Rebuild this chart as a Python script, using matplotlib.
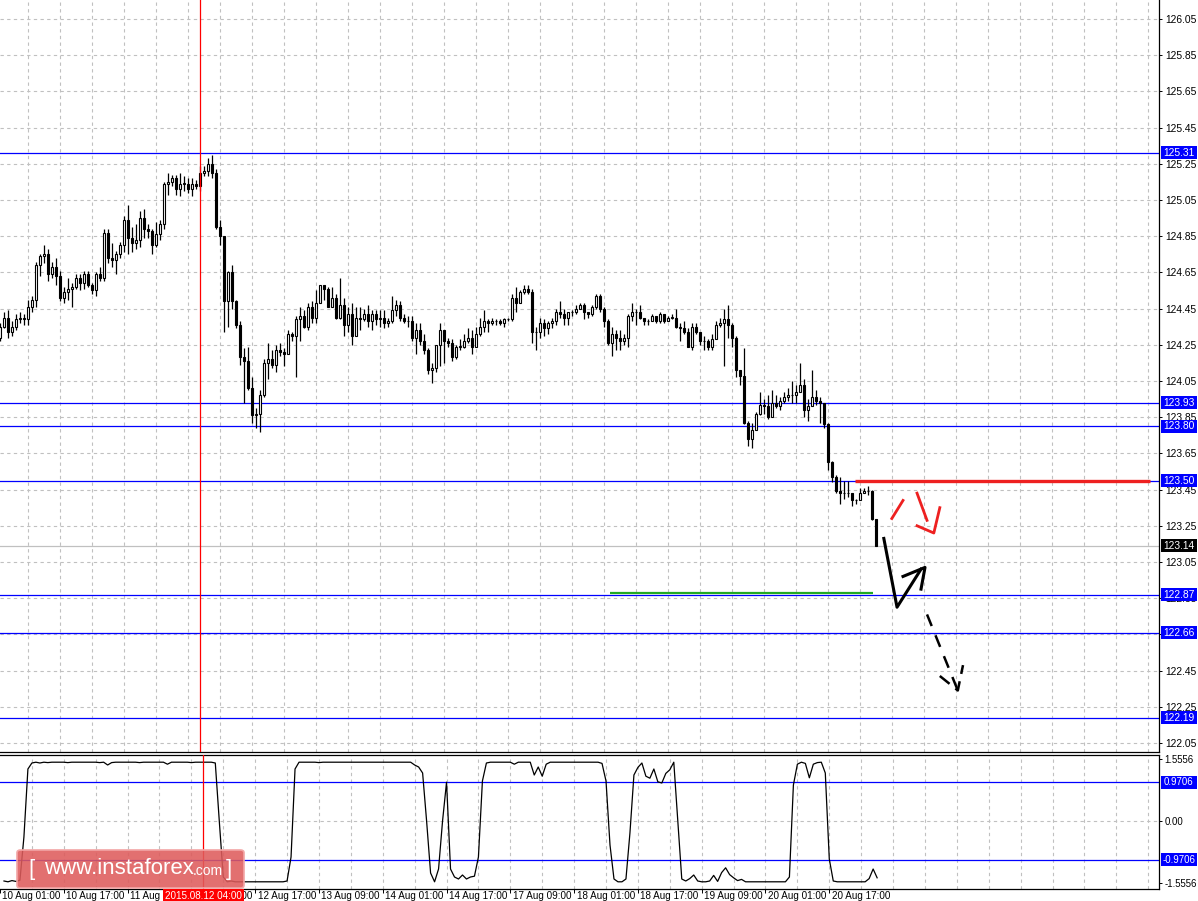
import numpy as np
import matplotlib
matplotlib.use('Agg')
import matplotlib.pyplot as plt
from matplotlib.patches import FancyBboxPatch, Rectangle
from matplotlib.transforms import blended_transform_factory

plt.rcParams['font.family'] = ['Liberation Sans', 'DejaVu Sans']

# H1 candles, bar 0 = 10 Aug 02:00
firstOpen = 124.29
closes = [
    124.35, 124.40, 124.32, 124.35, 124.39, 124.40, 124.39, 124.46, 124.50, 124.69,
    124.74, 124.75, 124.64, 124.68, 124.63, 124.51, 124.54, 124.56, 124.57, 124.62,
    124.59, 124.64, 124.58, 124.55, 124.64, 124.62, 124.87, 124.73, 124.72, 124.75,
    124.80, 124.94, 124.84, 124.81, 124.83, 124.95, 124.89, 124.88, 124.80, 124.86,
    124.92, 125.14, 125.15, 125.17, 125.11, 125.14, 125.14, 125.11, 125.14, 125.13,
    125.20, 125.21, 125.25, 125.20, 124.90, 124.85, 124.49, 124.65, 124.49, 124.36,
    124.18, 124.16, 124.01, 123.86, 123.87, 123.97, 124.15, 124.17, 124.14, 124.22,
    124.21, 124.20, 124.31, 124.30, 124.39, 124.41, 124.35, 124.46, 124.40, 124.48,
    124.58, 124.56, 124.46, 124.51, 124.40, 124.47, 124.36, 124.42, 124.30, 124.40,
    124.39, 124.42, 124.38, 124.42, 124.39, 124.40, 124.37, 124.38, 124.44, 124.47,
    124.40, 124.38, 124.38, 124.29, 124.33, 124.27, 124.22, 124.11, 124.12, 124.25,
    124.33, 124.27, 124.26, 124.18, 124.24, 124.24, 124.27, 124.29, 124.24, 124.31,
    124.35, 124.38, 124.37, 124.38, 124.38, 124.37, 124.39, 124.39, 124.51, 124.48,
    124.54, 124.56, 124.54, 124.32, 124.32, 124.37, 124.34, 124.37, 124.38, 124.43,
    124.42, 124.40, 124.43, 124.43, 124.45, 124.47, 124.43, 124.42, 124.46, 124.52,
    124.45, 124.38, 124.26, 124.31, 124.29, 124.27, 124.29, 124.41, 124.43, 124.43,
    124.40, 124.38, 124.38, 124.41, 124.38, 124.42, 124.38, 124.40, 124.40, 124.35,
    124.34, 124.32, 124.24, 124.35, 124.32, 124.27, 124.27, 124.24, 124.28, 124.36,
    124.37, 124.39, 124.36, 124.29, 124.11, 124.08, 123.82, 123.73, 123.78, 123.87,
    123.92, 123.91, 123.85, 123.93, 123.91, 123.94, 123.96, 123.97, 123.97, 123.99,
    124.03, 123.89, 123.91, 123.96, 123.94, 123.93, 123.81, 123.60, 123.52, 123.44,
    123.43, 123.43, 123.43, 123.39, 123.39, 123.43, 123.44, 123.44, 123.29, 123.14,
]
highs = [
    124.37, 124.43, 124.44, 124.38, 124.42, 124.43, 124.42, 124.50, 124.52, 124.71,
    124.75, 124.80, 124.78, 124.71, 124.73, 124.66, 124.57, 124.62, 124.59, 124.64,
    124.64, 124.66, 124.66, 124.59, 124.65, 124.68, 124.89, 124.89, 124.81, 124.77,
    124.82, 124.96, 125.02, 124.90, 124.92, 124.99, 125.00, 124.92, 124.89, 124.93,
    124.94, 125.15, 125.20, 125.19, 125.19, 125.20, 125.18, 125.17, 125.17, 125.16,
    125.24, 125.24, 125.28, 125.30, 125.22, 124.94, 124.85, 124.66, 124.69, 124.50,
    124.38, 124.23, 124.24, 124.07, 123.90, 124.00, 124.17, 124.26, 124.22, 124.25,
    124.26, 124.23, 124.33, 124.32, 124.41, 124.46, 124.44, 124.48, 124.49, 124.55,
    124.58, 124.58, 124.57, 124.57, 124.53, 124.62, 124.51, 124.46, 124.48, 124.46,
    124.46, 124.45, 124.47, 124.44, 124.44, 124.44, 124.44, 124.40, 124.52, 124.50,
    124.49, 124.42, 124.41, 124.41, 124.37, 124.37, 124.31, 124.23, 124.15, 124.25,
    124.37, 124.33, 124.29, 124.28, 124.25, 124.28, 124.31, 124.34, 124.33, 124.35,
    124.40, 124.44, 124.39, 124.40, 124.39, 124.39, 124.40, 124.40, 124.53, 124.57,
    124.55, 124.58, 124.58, 124.56, 124.35, 124.40, 124.39, 124.38, 124.40, 124.45,
    124.49, 124.45, 124.43, 124.44, 124.47, 124.48, 124.48, 124.43, 124.47, 124.53,
    124.53, 124.46, 124.39, 124.35, 124.33, 124.33, 124.31, 124.42, 124.48, 124.45,
    124.47, 124.39, 124.39, 124.42, 124.40, 124.43, 124.42, 124.41, 124.42, 124.45,
    124.37, 124.38, 124.34, 124.37, 124.37, 124.32, 124.30, 124.28, 124.31, 124.38,
    124.40, 124.45, 124.47, 124.37, 124.30, 124.11, 124.23, 123.83, 123.82, 123.88,
    123.99, 123.95, 123.97, 124.00, 123.97, 123.96, 123.99, 124.01, 124.05, 124.03,
    124.15, 124.06, 123.95, 124.11, 124.00, 123.96, 123.93, 123.82, 123.61, 123.53,
    123.52, 123.50, 123.50, 123.41, 123.40, 123.46, 123.46, 123.47, 123.45, 123.29,
]
lows = [
    124.27, 124.34, 124.29, 124.30, 124.33, 124.37, 124.36, 124.36, 124.43, 124.46,
    124.63, 124.70, 124.60, 124.62, 124.58, 124.49, 124.48, 124.50, 124.46, 124.56,
    124.55, 124.56, 124.57, 124.53, 124.52, 124.60, 124.60, 124.70, 124.68, 124.64,
    124.73, 124.76, 124.75, 124.76, 124.78, 124.79, 124.84, 124.84, 124.75, 124.79,
    124.83, 124.89, 125.08, 125.13, 125.08, 125.07, 125.10, 125.09, 125.07, 125.11,
    125.10, 125.18, 125.18, 125.17, 124.89, 124.80, 124.32, 124.35, 124.45, 124.34,
    124.14, 123.93, 124.00, 123.82, 123.79, 123.77, 123.96, 124.06, 124.12, 124.10,
    124.19, 124.13, 124.20, 124.27, 124.07, 124.27, 124.34, 124.33, 124.37, 124.37,
    124.48, 124.50, 124.46, 124.46, 124.39, 124.39, 124.30, 124.32, 124.25, 124.34,
    124.33, 124.38, 124.35, 124.33, 124.36, 124.35, 124.34, 124.35, 124.37, 124.41,
    124.38, 124.37, 124.35, 124.27, 124.20, 124.25, 124.20, 124.09, 124.04, 124.10,
    124.13, 124.15, 124.24, 124.16, 124.17, 124.22, 124.23, 124.26, 124.20, 124.25,
    124.30, 124.32, 124.32, 124.36, 124.36, 124.36, 124.35, 124.38, 124.38, 124.43,
    124.48, 124.53, 124.53, 124.26, 124.22, 124.29, 124.30, 124.31, 124.34, 124.36,
    124.40, 124.36, 124.36, 124.41, 124.42, 124.46, 124.39, 124.40, 124.41, 124.45,
    124.43, 124.35, 124.25, 124.19, 124.22, 124.22, 124.25, 124.24, 124.38, 124.36,
    124.39, 124.36, 124.36, 124.39, 124.37, 124.37, 124.37, 124.39, 124.39, 124.34,
    124.27, 124.31, 124.24, 124.22, 124.31, 124.25, 124.22, 124.22, 124.22, 124.28,
    124.35, 124.13, 124.29, 124.24, 124.07, 124.03, 123.81, 123.69, 123.68, 123.84,
    123.86, 123.87, 123.84, 123.86, 123.90, 123.89, 123.93, 123.94, 123.93, 123.93,
    124.00, 123.85, 123.83, 123.94, 123.92, 123.82, 123.79, 123.56, 123.49, 123.43,
    123.37, 123.40, 123.41, 123.36, 123.37, 123.39, 123.43, 123.42, 123.28, 123.14,
]

# oscillator in the lower window, one value per bar
osc = [
    -1.50, -1.52, -1.49, -1.51, -1.48, -0.40, 1.30, 1.45, 1.47, 1.45,
    1.47, 1.46, 1.47, 1.47, 1.47, 1.47, 1.46, 1.47, 1.47, 1.47,
    1.47, 1.47, 1.47, 1.47, 1.46, 1.47, 1.40, 1.46, 1.47, 1.47,
    1.47, 1.47, 1.47, 1.47, 1.46, 1.47, 1.47, 1.47, 1.47, 1.47,
    1.47, 1.42, 1.47, 1.47, 1.47, 1.47, 1.47, 1.46, 1.47, 1.47,
    1.47, 1.47, 1.47, 1.45, 0.00, -1.40, -1.52, -1.50, -1.52, -1.52,
    -1.52, -1.52, -1.52, -1.52, -1.52, -1.52, -1.52, -1.52, -1.52, -1.52,
    -1.52, -1.50, -0.90, 1.30, 1.47, 1.47, 1.47, 1.47, 1.47, 1.46,
    1.47, 1.47, 1.47, 1.47, 1.47, 1.47, 1.47, 1.47, 1.47, 1.47,
    1.47, 1.47, 1.47, 1.47, 1.47, 1.47, 1.47, 1.47, 1.47, 1.47,
    1.47, 1.47, 1.47, 1.40, 1.35, 1.20, 0.00, -1.30, -1.52, -1.20,
    0.00, 0.97, -1.20, -1.40, -1.45, -1.35, -1.45, -1.40, -1.38, -0.90,
    1.00, 1.45, 1.47, 1.47, 1.47, 1.47, 1.47, 1.47, 1.42, 1.47,
    1.47, 1.47, 1.47, 1.15, 1.35, 1.12, 1.42, 1.47, 1.47, 1.47,
    1.47, 1.47, 1.47, 1.47, 1.47, 1.47, 1.47, 1.47, 1.47, 1.47,
    1.44, 1.00, -0.60, -1.45, -1.52, -1.52, -1.45, -0.30, 1.15, 1.34,
    1.45, 1.12, 1.07, 1.30, 0.98, 0.95, 1.19, 1.28, 1.47, 0.00,
    -1.45, -1.50, -1.44, -1.35, -1.50, -1.52, -1.52, -1.50, -1.36, -1.51,
    -1.29, -1.17, -1.34, -1.42, -1.49, -1.46, -1.52, -1.52, -1.52, -1.52,
    -1.52, -1.52, -1.52, -1.52, -1.52, -1.52, -1.52, -1.40, 0.90, 1.42,
    1.47, 1.44, 1.08, 1.42, 1.46, 1.47, 1.20, -0.95, -1.50, -1.52,
    -1.52, -1.52, -1.52, -1.52, -1.52, -1.52, -1.52, -1.44, -1.20, -1.42,
]

levels = [125.31, 123.93, 123.80, 123.50, 122.87, 122.66, 122.19]
lastPrice = 123.14
oscLevel = 0.9706
oscScale = 1.5556
markedBar = 50
markedLabel = '2015.08.12 04:00'
timeBars = [-1, 15, 31, 47, 63, 79, 95, 111, 127, 143, 159, 175, 191, 207]
timeLabels = ['10 Aug 01:00', '10 Aug 17:00', '11 Aug 09:00', '12 Aug 01:00', '12 Aug 17:00',
              '13 Aug 09:00', '14 Aug 01:00', '14 Aug 17:00', '17 Aug 09:00', '18 Aug 01:00',
              '18 Aug 17:00', '19 Aug 09:00', '20 Aug 01:00', '20 Aug 17:00']
priceTicks = [122.05 + 0.2 * k for k in range(21)]

# hand drawn lines on the chart (bar, price)
resistLine = ([213.7, 287.4], [123.50, 123.50])
supportLine = ([152.4, 218.2], [122.88, 122.88])
blackPath = ([220.9, 224.2, 230.2], [123.18, 122.80, 123.01])
blackHead = ([225.7, 231.2, 230.2], [122.97, 123.02, 122.90])
dashPath = ([231.7, 239.4], [122.76, 122.34])
dashHead = ([234.9, 239.4, 240.7], [122.42, 122.34, 122.48])
redStroke = ([222.9, 225.7], [123.29, 123.39])
redPath = ([229.2, 231.7], [123.43, 123.28])
redHead = ([229.2, 233.4, 234.9], [123.25, 123.21, 123.35])

closes = np.array(closes)
opens = np.r_[firstOpen, closes[:-1]]
highs = np.maximum(np.array(highs), np.maximum(opens, closes))
lows = np.minimum(np.array(lows), np.minimum(opens, closes))
bars = np.arange(len(closes))

W, H = 1198, 901
fs = 7.4
fs2 = 6.9
fig = plt.figure(figsize=(W / 100, H / 100), dpi=100)
fig.patch.set_facecolor('white')
ax = fig.add_axes([0, 149 / H, 1159 / W, 752 / H])
ax2 = fig.add_axes([0, 12 / H, 1159 / W, 134 / H])

xl = (-0.075, 289.7)
gridX = np.arange(7, 290, 8)
gridStyle = dict(color='#c0c0c0', linestyle=(0, (3, 3)), linewidth=0.8)
blue = '#0000ff'

# price window
ax.set_xlim(*xl)
ax.set_ylim(122.0, 126.155)
for g in gridX:
    ax.axvline(g, zorder=0, **gridStyle)
for t in priceTicks:
    ax.axhline(t, zorder=0, **gridStyle)

ax.vlines(bars, lows, highs, color='black', lw=0.9, zorder=2)
up = closes >= opens
ax.bar(bars[up], np.maximum(closes[up] - opens[up], 0.002), bottom=opens[up], width=0.55,
       color='white', edgecolor='black', lw=0.8, zorder=3)
ax.bar(bars[~up], closes[~up] - opens[~up], bottom=opens[~up], width=0.55,
       color='black', edgecolor='black', lw=0.8, zorder=3)

for lv in levels:
    ax.axhline(lv, color=blue, lw=0.9, zorder=1)
ax.axhline(lastPrice, color='#c0c0c0', lw=0.9, zorder=1)
ax.axvline(markedBar, color='red', lw=0.9, zorder=4)

ax.plot(*resistLine, color='#ee2020', lw=2.4, solid_capstyle='butt', zorder=5)
ax.plot(*supportLine, color='#22aa22', lw=1.6, solid_capstyle='butt', zorder=5)
ax.plot(*blackPath, color='black', lw=2.2, zorder=5)
ax.plot(*blackHead, color='black', lw=2.2, zorder=5)
ax.plot(*dashPath, color='black', lw=1.8, linestyle=(0, (5, 4)), zorder=5)
ax.plot(*dashHead, color='black', lw=1.8, linestyle=(0, (5, 3)), zorder=5)
ax.plot(*redStroke, color='#ee2020', lw=2.0, zorder=5)
ax.plot(*redPath, color='#ee2020', lw=2.0, zorder=5)
ax.plot(*redHead, color='#ee2020', lw=2.0, zorder=5)

ax.yaxis.tick_right()
ax.set_yticks(priceTicks)
ax.set_yticklabels(['%.2f' % t for t in priceTicks])
ax.tick_params(axis='y', direction='out', length=2.5, width=0.7, pad=2, labelsize=fs)
ax.set_xticks([])
for s in ['left', 'top']:
    ax.spines[s].set_visible(False)
for s in ['right', 'bottom']:
    ax.spines[s].set_linewidth(0.9)

tr = blended_transform_factory(ax.transAxes, ax.transData)
boxH = 6.5 / 181.0
for lv, fc in [(l, blue) for l in levels] + [(lastPrice, 'black')]:
    ax.add_patch(Rectangle((1.0017, lv - boxH), 0.0311, 2 * boxH, transform=tr,
                           facecolor=fc, edgecolor='none', clip_on=False, zorder=6))
    ax.text(1.0172, lv, '%.2f' % lv, transform=tr, ha='center', va='center',
            color='white', fontsize=fs, zorder=7, clip_on=False)

# oscillator window
ax2.set_xlim(*xl)
ax2.set_ylim(-1.70, 1.65)
for g in gridX:
    ax2.axvline(g, zorder=0, **gridStyle)
ax2.axhline(0, zorder=0, **gridStyle)
ax2.axhline(oscLevel, color=blue, lw=0.9, zorder=1)
ax2.axhline(-oscLevel, color=blue, lw=0.9, zorder=1)
ax2.plot(bars, osc, color='black', lw=0.9, zorder=3)
ax2.axvline(markedBar, color='red', lw=0.9, zorder=4)

ax2.yaxis.tick_right()
ax2.set_yticks([oscScale, 0, -oscScale])
ax2.set_yticklabels(['%.4f' % oscScale, '0.00', '%.4f' % -oscScale])
ax2.tick_params(axis='y', direction='out', length=2.5, width=0.7, pad=1.5, labelsize=fs2)
ax2.set_xticks(timeBars)
ax2.set_xticklabels([])
ax2.tick_params(axis='x', direction='out', length=3, width=0.7)
ax2.spines['left'].set_visible(False)
for s in ['right', 'bottom', 'top']:
    ax2.spines[s].set_linewidth(0.9)

tr2 = blended_transform_factory(ax2.transAxes, ax2.transData)
oscBoxH = 6.5 / 40.0
for lv in [oscLevel, -oscLevel]:
    ax2.add_patch(Rectangle((1.0017, lv - oscBoxH), 0.0311, 2 * oscBoxH, transform=tr2,
                            facecolor=blue, edgecolor='none', clip_on=False, zorder=6))
    ax2.text(1.0172, lv, '%.4f' % lv, transform=tr2, ha='center', va='center',
             color='white', fontsize=fs2, zorder=7, clip_on=False)

trx = blended_transform_factory(ax2.transData, ax2.transAxes)
for b, lab in zip(timeBars, timeLabels):
    ax2.text(b + 0.6, -0.012, lab, transform=trx, ha='left', va='top', fontsize=7.1,
             clip_on=False)
ax2.text(markedBar, -0.012, markedLabel, transform=trx, ha='center', va='top', fontsize=7.1,
         color='white', clip_on=False, zorder=8,
         bbox=dict(boxstyle='square,pad=0.2', facecolor='red', edgecolor='none'))

# watermark
fig.patches.append(FancyBboxPatch((17 / W, 13 / H), 227 / W, 38 / H,
                                  boxstyle='round,pad=0,rounding_size=0.003',
                                  transform=fig.transFigure, facecolor=(0.87, 0.36, 0.36, 0.88),
                                  edgecolor=(0.95, 0.65, 0.65), lw=1.2, zorder=10))
fig.text(31 / W, 32 / H, '[', color='white', fontsize=16, va='center', ha='center', zorder=11)
fig.text(44 / W, 32 / H, 'www.instaforex', color='white', fontsize=16, va='center', ha='left', zorder=11)
fig.text(193 / W, 30 / H, '.com', color='white', fontsize=10, va='center', ha='left', zorder=11)
fig.text(229 / W, 32 / H, ']', color='white', fontsize=16, va='center', ha='center', zorder=11)

fig.savefig('out.png', dpi=100)
